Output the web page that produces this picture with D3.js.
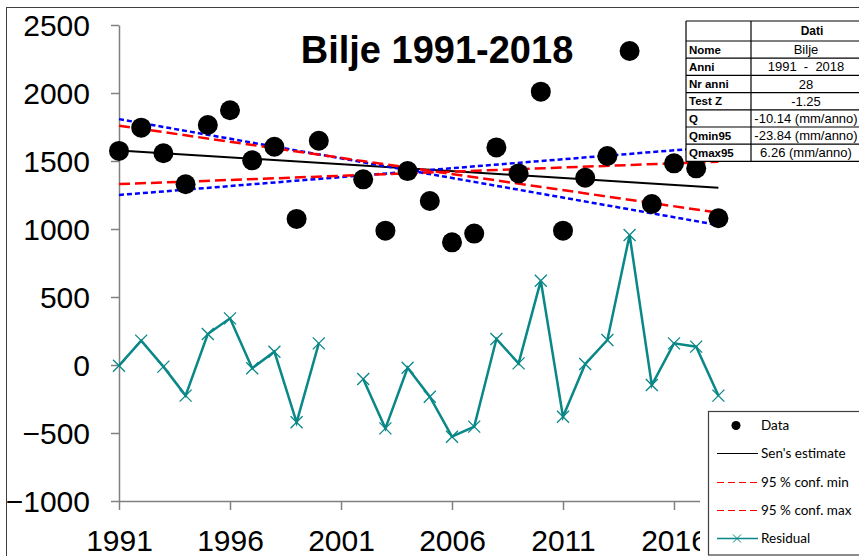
<!DOCTYPE html>
<html><head><meta charset="utf-8">
<script src="https://cdn.jsdelivr.net/npm/d3@7"></script>
<style>body{margin:0;background:#fff}svg{display:block}</style>
</head><body>
<script>
// ---------- data ----------
const years = [1991,1992,1993,1994,1995,1996,1997,1998,1999,2000,2001,2002,2003,2004,2005,2006,2007,2008,2009,2010,2011,2012,2013,2014,2015,2016,2017,2018];
const dataValues = [1574,1745,1557,1329,1765,1873,1505,1605,1074,1649,null,1365,988,1426,1206,902,966,1600,1409,2010,988,1377,1537,2309,1184,1483,1446,1079];
const residuals = [-5,179,-12,-225,228,343,-24,98,-421,159,null,-103,-466,-20,-233,-527,-453,191,12,620,-380,7,184,956,-147,159,135,-225];
// trend lines: value at first and last year
const senLine = [1578, 1304];
const confMinLine = [1760, 1120];
const confMaxLine = [1330, 1495];
const bandUpperLine = [1808, 1029];
const bandLowerLine = [1250, 1605];
const yTicks = [2500,2000,1500,1000,500,0,-500,-1000];
const xTicks = [1991,1996,2001,2006,2011,2016];
const title = "Bilje 1991-2018";
const tableLabels = ["", "Nome", "Anni", "Nr anni", "Test Z", "Q", "Qmin95", "Qmax95"];
const tableValues = ["Dati", "Bilje", "1991  -  2018", "28", "-1.25", "-10.14 (mm/anno)", "-23.84 (mm/anno)", "6.26 (mm/anno)"];
const legendLabels = ["Data", "Sen's estimate", "95 % conf. min", "95 % conf. max", "Residual"];

// ---------- layout ----------
const W = 859, H = 556;
const svg = d3.select("body").append("svg").attr("width", W).attr("height", H);
svg.append("rect").attr("width", W).attr("height", H).attr("fill", "#fff");
svg.append("rect").attr("x", 6.5).attr("y", 7.5).attr("width", 1000).attr("height", 700)
  .attr("fill", "none").attr("stroke", "#404040").attr("stroke-width", 1);

const x = d3.scaleLinear().domain([1991, 2018]).range([119, 718.4]);
const y = d3.scaleLinear().domain([-1000, 2500]).range([501, 25]);
const FONT = "'Liberation Sans', Arial, sans-serif";
const TEAL = "#0a8787";

// axes
const yAxis = svg.append("g").attr("transform", "translate(119,0)")
  .call(d3.axisLeft(y).tickValues(yTicks).tickSize(8).tickPadding(21).tickSizeOuter(0).tickFormat(d3.format("d")));
const xAxis = svg.append("g").attr("transform", "translate(0,501)")
  .call(d3.axisBottom(x).tickValues(xTicks).tickSize(9).tickPadding(20).tickSizeOuter(0).tickFormat(d3.format("d")));
[yAxis, xAxis].forEach(g => {
  g.select(".domain").attr("stroke", "#808080").attr("stroke-width", 1.5);
  g.selectAll(".tick line").attr("stroke", "#808080").attr("stroke-width", 1.5);
  g.selectAll("text").attr("font-family", FONT).attr("font-size", 30).attr("fill", "#000");
});
yAxis.selectAll("text").attr("dy", "0.35em");

// title
svg.append("text").attr("x", 437).attr("y", 63).attr("text-anchor", "middle")
  .attr("font-family", FONT).attr("font-weight", "bold").attr("font-size", 38).text(title);

// trend lines
const first = years[0], last = years[years.length - 1];
function trend(vals, color, width, dash) {
  svg.append("line").attr("x1", x(first)).attr("y1", y(vals[0])).attr("x2", x(last)).attr("y2", y(vals[1]))
    .attr("stroke", color).attr("stroke-width", width).attr("stroke-dasharray", dash);
}
trend(senLine, "#000", 2, null);
trend(bandUpperLine, "#0000ff", 2.5, "5,3");
trend(bandLowerLine, "#0000ff", 2.5, "5,3");
trend(confMinLine, "#ff0000", 2.5, "11,5");
trend(confMaxLine, "#ff0000", 2.5, "11,5");

// data points
const pts = years.map((yr, i) => ({yr, v: dataValues[i], r: residuals[i]}));
svg.append("g").selectAll("circle").data(pts.filter(d => d.v != null)).join("circle")
  .attr("cx", d => x(d.yr)).attr("cy", d => y(d.v)).attr("r", 10).attr("fill", "#000");

// residuals
const line = d3.line().defined(d => d.r != null).x(d => x(d.yr)).y(d => y(d.r));
svg.append("path").datum(pts).attr("d", line).attr("fill", "none").attr("stroke", TEAL).attr("stroke-width", 2.5);
const xMark = "M-6,-6L6,6M-6,6L6,-6";
svg.append("g").selectAll("path").data(pts.filter(d => d.r != null)).join("path")
  .attr("transform", d => `translate(${x(d.yr)},${y(d.r)})`).attr("d", xMark)
  .attr("stroke", TEAL).attr("stroke-width", 1.3).attr("fill", "none");

// table
const tX0 = 686, tX1 = 751, tX2 = 876;
const rowY = [21, 41];
for (let i = 1; i < tableLabels.length; i++) rowY.push(41 + i * 17.2);
const tbl = svg.append("g");
tbl.append("rect").attr("x", tX0).attr("y", rowY[0]).attr("width", tX2 - tX0).attr("height", rowY[rowY.length-1] - rowY[0]).attr("fill", "#fff");
rowY.forEach(yy => tbl.append("line").attr("x1", tX0).attr("x2", tX2).attr("y1", yy).attr("y2", yy).attr("stroke", "#000").attr("stroke-width", 1.2));
[tX0, tX1].forEach(xx => tbl.append("line").attr("x1", xx).attr("x2", xx).attr("y1", rowY[0]).attr("y2", rowY[rowY.length-1]).attr("stroke", "#000").attr("stroke-width", 1.2));
tableLabels.forEach((t, i) => {
  const cy = (rowY[i] + rowY[i+1]) / 2;
  tbl.append("text").attr("x", 689).attr("y", cy).attr("dy", "0.36em").attr("font-family", FONT)
    .attr("font-weight", "bold").attr("font-size", 11.5).text(t);
  tbl.append("text").attr("x", i === 0 ? 812 : 806).attr("y", cy).attr("dy", "0.36em").attr("text-anchor", "middle")
    .attr("font-family", FONT).attr("font-size", i === 0 ? 12 : 13).attr("font-weight", i === 0 ? "bold" : "normal")
    .style("white-space", "pre").text(tableValues[i]);
});

// legend
svg.append("rect").attr("x", 700).attr("y", 404).attr("width", 160).attr("height", 160).attr("fill", "#fff");
svg.append("rect").attr("x", 708.5).attr("y", 411.5).attr("width", 200).attr("height", 143.5)
  .attr("fill", "#fff").attr("stroke", "#404040").attr("stroke-width", 1.2);
const LF = "Lato, 'Open Sans', sans-serif";
const ly = i => Math.round(425 + i * 28.3) + 0.5;
legendLabels.forEach((t, i) => {
  svg.append("text").attr("x", 761).attr("y", ly(i)).attr("dy", "0.35em").attr("font-family", LF)
    .attr("font-size", 13.5).attr("fill", "#000").text(t);
});
svg.append("circle").attr("cx", 736).attr("cy", ly(0)).attr("r", 4.5).attr("fill", "#000");
svg.append("line").attr("x1", 717).attr("x2", 758).attr("y1", ly(1)).attr("y2", ly(1)).attr("stroke", "#000").attr("stroke-width", 1);
[2, 3].forEach(i => svg.append("line").attr("x1", 717).attr("x2", 758).attr("y1", ly(i)).attr("y2", ly(i))
  .attr("stroke", "#ff0000").attr("stroke-width", 1.2).attr("stroke-dasharray", "7,4"));
svg.append("line").attr("x1", 717).attr("x2", 758).attr("y1", ly(4)).attr("y2", ly(4)).attr("stroke", TEAL).attr("stroke-width", 1.3);
svg.append("path").attr("transform", `translate(737,${ly(4)})`).attr("d", "M-4,-4L4,4M-4,4L4,-4")
  .attr("stroke", TEAL).attr("stroke-width", 1).attr("fill", "none");
</script>
</body></html>
